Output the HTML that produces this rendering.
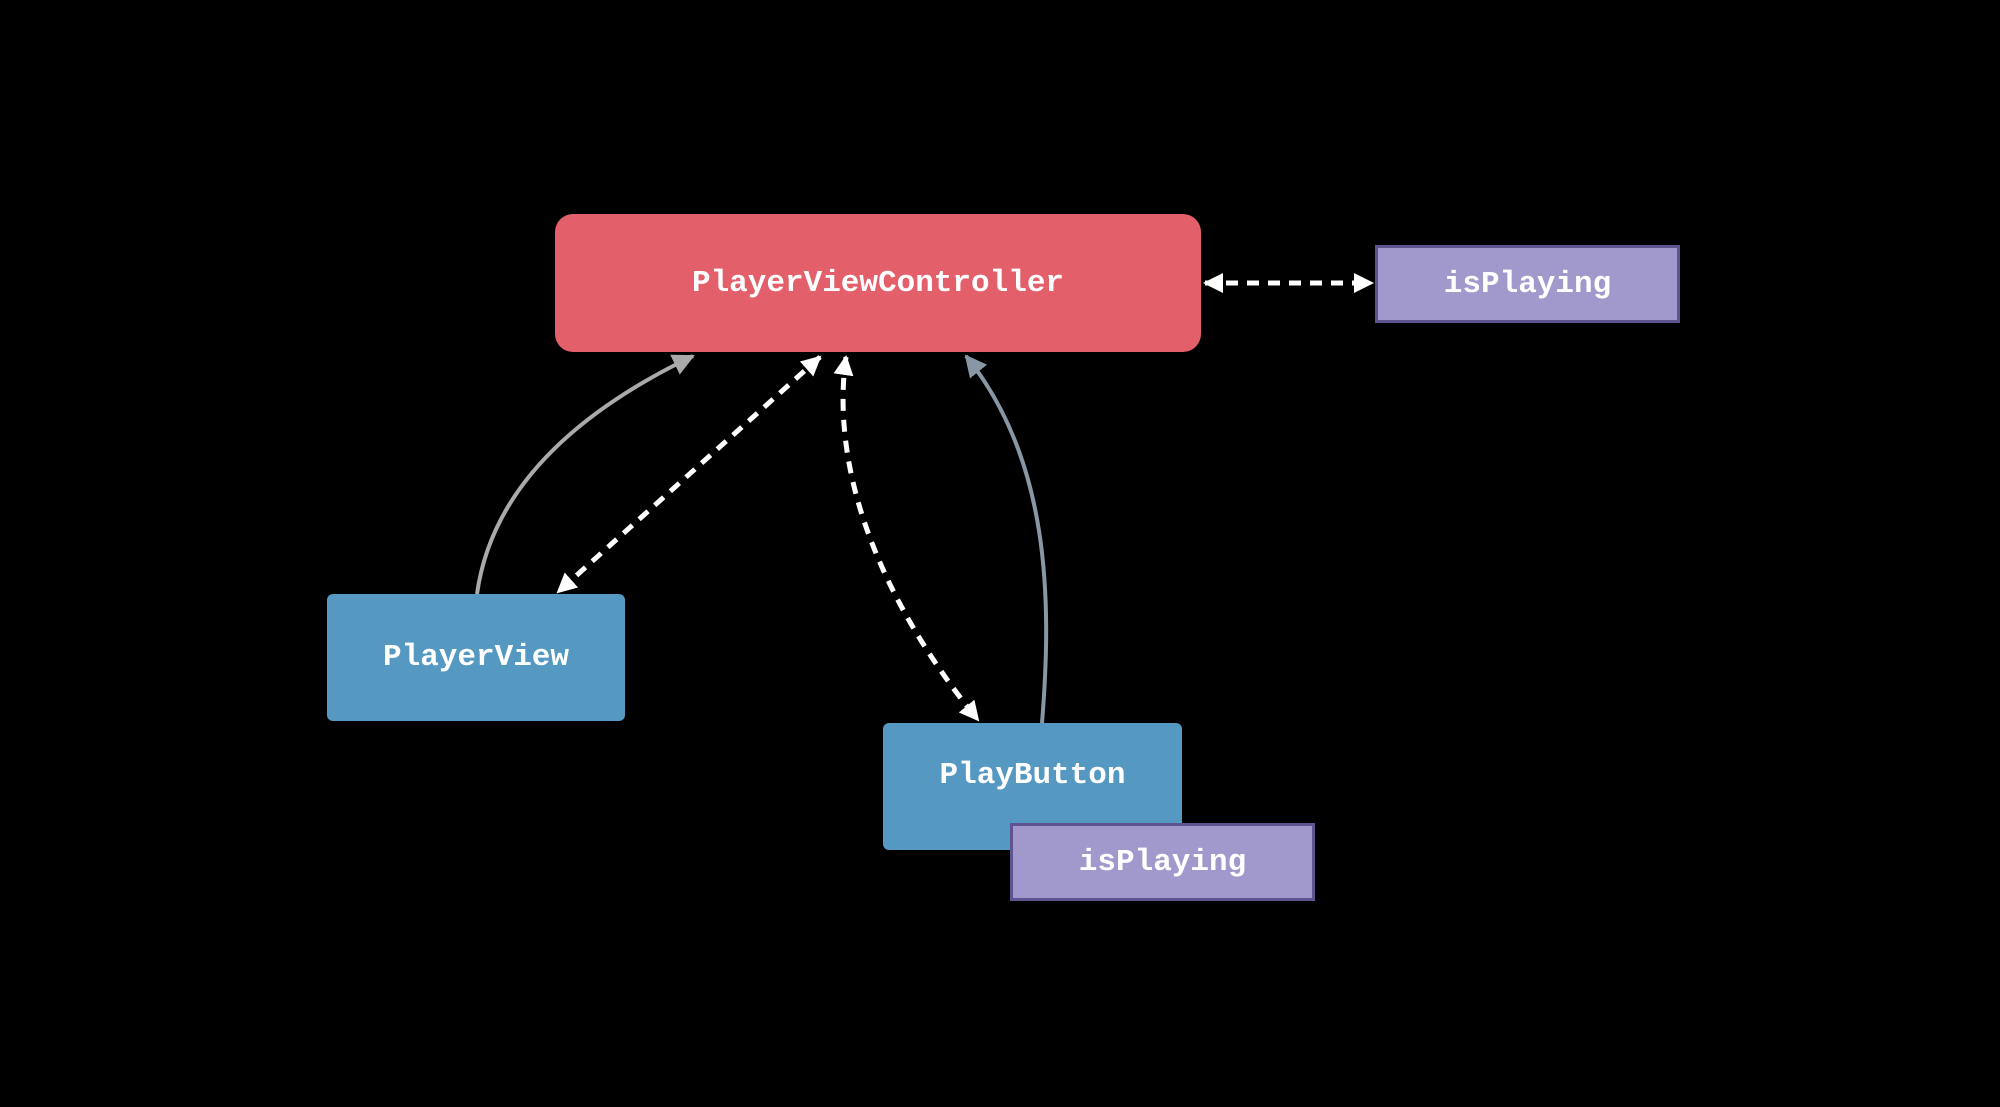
<!DOCTYPE html>
<html><head><style>
html,body{margin:0;padding:0;background:#000;}
body{width:2000px;height:1107px;position:relative;overflow:hidden;font-family:"Liberation Mono",monospace;}
.b{position:absolute;display:flex;align-items:center;justify-content:center;color:#fff;font-weight:bold;font-size:31px;box-sizing:border-box;}
.red{background:#E35F6A;border-radius:18px;}
.blue{background:#5599C2;border-radius:6px;}
.pur{background:#A199CC;border:3px solid #5E5490;}
</style></head><body>
<svg width="2000" height="1107" style="position:absolute;left:0;top:0">
<defs>
<marker id="aw" markerWidth="8" markerHeight="8" refX="7" refY="4" orient="auto-start-reverse" markerUnits="userSpaceOnUse" viewBox="0 0 8 8"><path d="M0,0 L8,4 L0,8z" fill="#fff"/></marker>
<marker id="ag" markerWidth="22" markerHeight="22" refX="20" refY="11" orient="auto" markerUnits="userSpaceOnUse"><path d="M0,0 L22,11 L0,22z" fill="#aaa"/></marker>
<marker id="ab" markerWidth="22" markerHeight="22" refX="20" refY="11" orient="auto" markerUnits="userSpaceOnUse"><path d="M0,0 L22,11 L0,22z" fill="#8897a6"/></marker>
<marker id="w2" markerWidth="20" markerHeight="20" refX="18" refY="10" orient="auto-start-reverse" markerUnits="userSpaceOnUse"><path d="M0,0 L20,10 L0,20z" fill="#fff"/></marker>
</defs>
<path d="M477,594 C490,500 560,420 693,356" stroke="#aaa" stroke-width="4" fill="none" marker-end="url(#ag)"/>
<path d="M1042,723 C1052,600 1050,460 966,356" stroke="#8897a6" stroke-width="4" fill="none" marker-end="url(#ab)"/>
<g stroke="#fff" stroke-width="5" fill="none" stroke-dasharray="12,9">
<path d="M820,357 L558,592" marker-start="url(#w2)" marker-end="url(#w2)"/>
<path d="M846,357 C830,470 880,600 978,720" marker-start="url(#w2)" marker-end="url(#w2)"/>
<path d="M1205,283 L1372,283" marker-start="url(#w2)" marker-end="url(#w2)"/>
</g>
</svg>
<div class="b red" style="left:555px;top:214px;width:646px;height:138px">PlayerViewController</div>
<div class="b pur" style="left:1375px;top:245px;width:305px;height:78px">isPlaying</div>
<div class="b blue" style="left:327px;top:594px;width:298px;height:127px">PlayerView</div>
<div class="b blue" style="left:883px;top:723px;width:299px;height:127px;padding-bottom:22px">PlayButton</div>
<div class="b pur" style="left:1010px;top:823px;width:305px;height:78px">isPlaying</div>
</body></html>
